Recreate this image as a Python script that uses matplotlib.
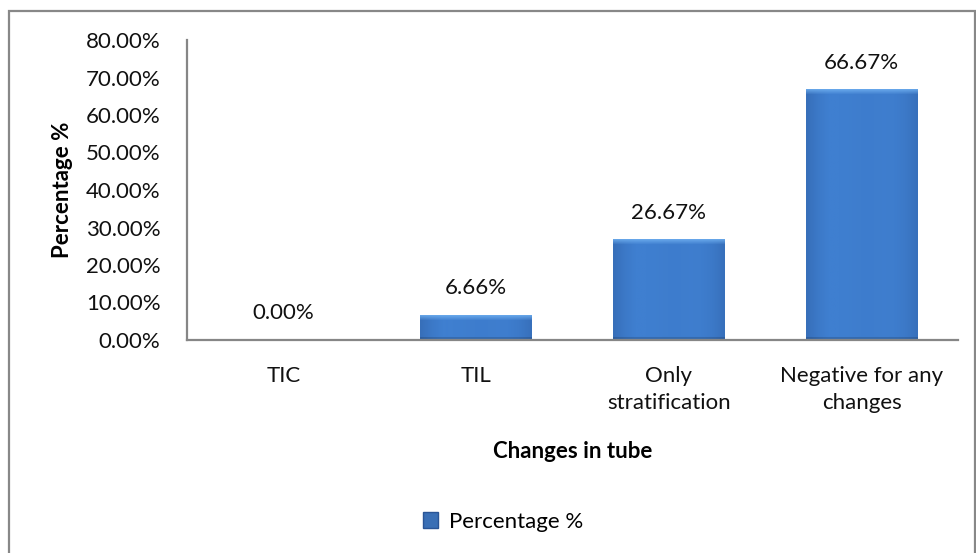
import numpy as np
import matplotlib
matplotlib.use("Agg")
import matplotlib.pyplot as plt
from matplotlib.ticker import FuncFormatter, MultipleLocator
from matplotlib.patches import Rectangle

plt.rcParams['font.family'] = ['Lato', 'DejaVu Sans']

categories = ["TIC", "TIL", "Only\nstratification", "Negative for any\nchanges"]
values = [0.00, 6.66, 26.67, 66.67]
series_name = "Percentage %"
x_title = "Changes in tube"
y_title = "Percentage %"

W, H = 976, 553
fig = plt.figure(figsize=(W / 100, H / 100), dpi=100)
ax = fig.add_axes([187 / W, 1 - 340 / H, (958 - 187) / W, 300 / H])

x = np.arange(len(categories))
bars = ax.bar(x, values, width=0.58, color='#3A74C2', edgecolor='none', zorder=2,
              label=series_name)

ax.set_xlim(-0.5, len(categories) - 0.5)
ax.set_ylim(0, 80)
ax.yaxis.set_major_locator(MultipleLocator(10))
ax.yaxis.set_major_formatter(FuncFormatter(lambda v, p: f"{v:.2f}%"))
ax.set_xticks(x)
ax.set_xticklabels(categories, linespacing=1.4)

fs = 16
ax.tick_params(axis='y', length=0, pad=19, labelsize=fs, labelcolor='#111111')
ax.tick_params(axis='x', length=0, pad=19, labelsize=fs, labelcolor='#111111')

for s in ['top', 'right']:
    ax.spines[s].set_visible(False)
for s in ['left', 'bottom']:
    ax.spines[s].set_color('#868686')
    ax.spines[s].set_linewidth(1.6)
    ax.spines[s].set_zorder(3)

ax.set_ylabel(y_title, fontsize=fs, fontweight='bold', labelpad=9)
ax.set_xlabel(x_title, fontsize=fs, fontweight='bold', labelpad=10)
ax.xaxis.set_label_coords(0.5, -0.335)

# gradient / bevel fill on each bar
fig.canvas.draw()
prof = np.array([0.62, 0.85, 1.0, 1.0, 0.98, 0.95, 0.95, 0.97, 0.95, 0.85, 0.65])
xs = np.linspace(0, 1, 60)
hprof = np.interp(xs, np.linspace(0, 1, len(prof)), prof)
base = np.array([0x3F, 0x7F, 0xD0]) / 255.0
dark = np.array([0x2A, 0x55, 0x96]) / 255.0
light = np.array([0x70, 0xB0, 0xF0]) / 255.0
for b in bars:
    hgt = b.get_height()
    if hgt <= 0:
        continue
    (x0, y0), (x1, y1) = ax.transData.transform([(b.get_x(), 0), (b.get_x() + b.get_width(), hgt)])
    hpx = max(int(round(y1 - y0)), 2)
    img = np.zeros((hpx, len(xs), 3))
    for i in range(hpx):
        col = dark + (base - dark) * hprof[:, None]
        if i < 5:
            t = 1 - i / 5
            col = col + (light - col) * t * 0.8
        if i > hpx - 4:
            col = col * 0.85
        img[i] = col
    ax.imshow(img, extent=(b.get_x(), b.get_x() + b.get_width(), 0, hgt), aspect='auto',
              zorder=2.5, interpolation='bilinear')
ax.set_xlim(-0.5, len(categories) - 0.5)
ax.set_ylim(0, 80)

for xi, v in zip(x, values):
    ax.annotate(f"{v:.2f}%", (xi, v), xytext=(0, 12), textcoords='offset points',
                ha='center', va='bottom', fontsize=fs, color='#111111')

# legend
fig.legend(handles=[Rectangle((0, 0), 1, 1, facecolor='#3A6FB5', edgecolor='#2A5596')],
           labels=[series_name], loc='center', bbox_to_anchor=(503 / W, 1 - 522 / H),
           frameon=False, fontsize=fs, handlelength=0.7, handleheight=0.7,
           handletextpad=0.5)

# outer chart border
fig.patches.append(Rectangle((9 / W, -0.05), (975 - 9) / W, 1.05 - 11 / H,
                             transform=fig.transFigure, fill=False,
                             edgecolor='#888888', linewidth=1.6))

fig.savefig("out.png", dpi=100)
